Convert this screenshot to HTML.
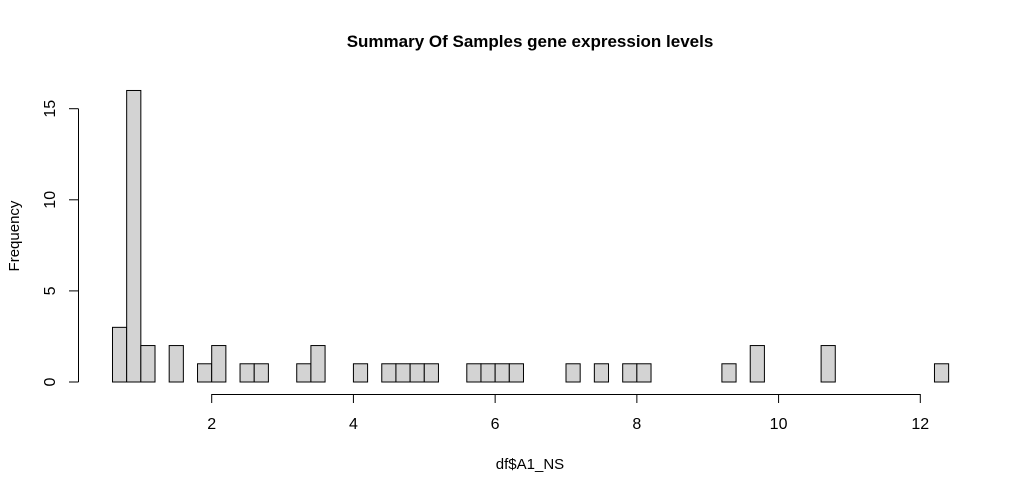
<!DOCTYPE html>
<html><head><meta charset="utf-8"><style>
body{margin:0;background:#fff;}
svg text{font-family:"Liberation Sans",Arial,sans-serif;fill:#000;}
</style></head><body>
<svg id="c" width="1023" height="492">
<text x="530" y="47" text-anchor="middle" font-size="17" font-weight="bold">Summary Of Samples gene expression levels</text>
<text x="530" y="469" text-anchor="middle" font-size="15">df$A1_NS</text>
<text transform="translate(19,236) rotate(-90)" text-anchor="middle" font-size="15">Frequency</text>
<g id="bars"></g><g id="xa"></g><g id="ya"></g>
</svg>
<script>
const binStart = 0.6;
const binWidth = 0.2;
const counts = [3,16,2,0,2,0,1,2,0,1,1,0,0,1,2,0,0,1,0,1,1,1,1,0,0,1,1,1,1,0,0,0,1,0,1,0,1,1,0,0,0,0,0,1,0,2,0,0,0,0,2,0,0,0,0,0,0,0,1];
const xTicks = [2,4,6,8,10,12];
const yTicks = [0,5,10,15];
const X = v => 211.7 + (v - 2) * 70.86;
const Y = v => 382 - v * 18.22;
const ns = "http://www.w3.org/2000/svg";
function mk(t, a, p){const e=document.createElementNS(ns,t);for(const k in a)e.setAttribute(k,a[k]);p.appendChild(e);return e;}
const bars = document.getElementById('bars');
counts.forEach((c,i)=>{
  const x0 = X(binStart + i*binWidth), x1 = X(binStart + (i+1)*binWidth);
  const r = mk('rect',{x:x0,y:Y(c),width:x1-x0,height:Y(0)-Y(c),fill:'#d3d3d3',stroke:'#000','stroke-width':1},bars);
  
  
});
const xa = document.getElementById('xa');


mk('line',{x1:X(xTicks[0]),x2:X(xTicks[xTicks.length-1]),y1:394.5,y2:394.5,stroke:'#000'},xa);
xTicks.forEach(t=>{
  mk('line',{x1:X(t),x2:X(t),y1:394,y2:403,stroke:'#000'},xa);
  const tx = mk('text',{x:X(t),y:429,'text-anchor':'middle','font-size':16},xa);
  tx.textContent = t;
  
  
});
const ya = document.getElementById('ya');


mk('line',{x1:78.5,x2:78.5,y1:Y(yTicks[0]),y2:Y(yTicks[yTicks.length-1]),stroke:'#000'},ya);
yTicks.forEach(t=>{
  mk('line',{x1:69,x2:78.5,y1:Y(t),y2:Y(t),stroke:'#000'},ya);
  const tx = mk('text',{transform:`translate(55,${Y(t)}) rotate(-90)`,'text-anchor':'middle','font-size':16},ya);
  tx.textContent = t;
  
  
});
</script>
</body></html>
